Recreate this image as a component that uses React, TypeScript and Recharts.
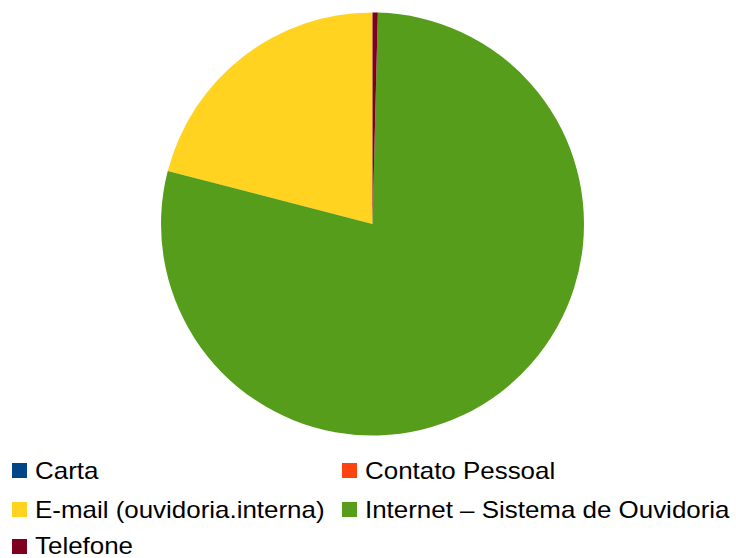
import React from 'react';
import { PieChart, Pie, Cell, Legend } from 'recharts';

const categories = ['Carta', 'Contato Pessoal', 'E-mail (ouvidoria.interna)', 'Internet – Sistema de Ouvidoria', 'Telefone'];
const values = [0, 0, 52, 195, 1];
const colors = ['#004586', '#ff420e', '#ffd320', '#579d1c', '#7e0021'];

const data = categories.map((name, i) => ({ name, value: values[i] }));

const renderLegend = () => {
  const colX = [12, 342];
  const rowCenter = [470.5, 509.5, 546];
  const top0 = 455;
  return (
    <div style={{ position: 'relative', width: 736, height: 103 }}>
      {categories.map((name, i) => {
        const col = i % 2;
        const row = Math.floor(i / 2);
        return (
          <div
            key={name}
            style={{
              position: 'absolute',
              left: colX[col],
              top: rowCenter[row] - top0 - 9,
              display: 'flex',
              alignItems: 'center',
              height: 18,
              fontFamily: '"Liberation Sans", Arial, sans-serif',
              fontSize: 24,
              lineHeight: '18px',
              color: '#000',
              whiteSpace: 'nowrap',
            }}
          >
            <span style={{ display: 'inline-block', width: 15, height: 15, background: colors[i], marginRight: 8, flex: 'none' }} />
            <span style={{ display: 'inline-block', transform: 'scaleX(1.08)', transformOrigin: 'left center' }}>{name}</span>
          </div>
        );
      })}
    </div>
  );
};

export default function App() {
  return (
    <div style={{ position: 'absolute', left: 0, top: 0, width: 736, height: 558, background: '#fff', overflow: 'hidden' }}>
      <PieChart width={736} height={558} margin={{ top: 0, right: 0, bottom: 0, left: 0 }}>
        <Pie
          data={data}
          dataKey="value"
          nameKey="name"
          cx={372.5}
          cy={224}
          outerRadius={211.5}
          startAngle={90}
          endAngle={450}
          stroke="none"
          isAnimationActive={false}
        >
          {data.map((d, i) => (
            <Cell key={d.name} fill={colors[i]} />
          ))}
        </Pie>
        <Legend
          content={renderLegend}
          wrapperStyle={{ position: 'absolute', left: 0, top: 455, width: 736, height: 103 }}
        />
      </PieChart>
    </div>
  );
}
